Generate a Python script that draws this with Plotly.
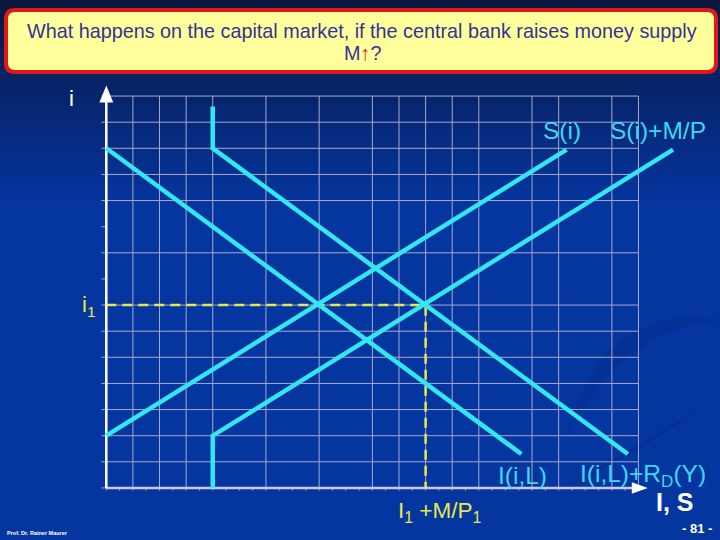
import plotly.graph_objects as go

# ---------------- data (axis units) ----------------
grid_x = [0, 1, 2, 3, 4, 6, 8, 10, 11, 12, 13, 14, 16, 17, 19, 20]
grid_y = [1, 2, 3, 4, 5, 6, 7, 9, 11, 12, 13, 14, 15]
grid_top = 15
grid_right = 20

curve_I_x = [0, 15.6]
curve_I_y = [13, 1.3]
curve_IRD_x = [4, 4, 19.6]
curve_IRD_y = [14.6, 13, 1.3]
curve_S_x = [0, 17.3]
curve_S_y = [2, 12.95]
curve_SMP_x = [4, 4, 21.3]
curve_SMP_y = [0, 2, 12.95]
eq_x = 12
eq_y = 7

title_line1 = "What happens on the capital market, if the central bank raises money supply"
title_line2 = "M<span style='color:#e01010'>↑</span>?"

# ---------------- layout helpers ----------------
W, H = 720, 540
ML, MR, MT, MB = 93, 15, 83, 39
PW, PH = W - ML - MR, H - MT - MB


def fx(px):
    return (px - ML) / PW


def fy(py):
    return 1 - (py - MT) / PH


CYAN = "#33e6f2"
CYAN_TXT = "#3fd6f0"
YEL = "#e8e84a"
GRID = "#a8a8c8"
FONT = "Liberation Sans, Arial, sans-serif"

fig = go.Figure()
shapes = []

# background gradient at top
top_c = (10, 22, 60)
bot_c = (5, 54, 160)
n = 40
for k in range(n):
    y0 = k * 210 / n
    y1 = (k + 1) * 210 / n
    t = (k / (n - 1)) ** 0.9
    c = tuple(int(top_c[j] + (bot_c[j] - top_c[j]) * t) for j in range(3))
    shapes.append(dict(type="rect", xref="paper", yref="paper", layer="below",
                       x0=fx(0), x1=fx(W), y0=fy(y1 + 0.5), y1=fy(y0),
                       fillcolor="rgb(%d,%d,%d)" % c, line=dict(width=0)))

# faint swirl in lower right
shapes.append(dict(type="path", xref="paper", yref="paper", layer="below",
                   path="M %f %f Q %f %f %f %f Q %f %f %f %f Z" % (
                       fx(565), fy(440), fx(600), fy(300), fx(720), fy(320),
                       fx(620), fy(330), fx(565), fy(440)),
                   fillcolor="rgba(0,25,100,0.18)", line=dict(width=0)))
shapes.append(dict(type="path", xref="paper", yref="paper", layer="below",
                   path="M %f %f Q %f %f %f %f Q %f %f %f %f Z" % (
                       fx(540), fy(500), fx(650), fy(440), fx(720), fy(395),
                       fx(640), fy(455), fx(540), fy(500)),
                   fillcolor="rgba(0,25,100,0.15)", line=dict(width=0)))

# grid
gx, gy = [], []
for x in grid_x:
    gx += [x, x, None]
    gy += [0, grid_top, None]
for y in grid_y:
    gx += [0, grid_right, None]
    gy += [y, y, None]
fig.add_trace(go.Scatter(x=gx, y=gy, mode="lines", line=dict(color=GRID, width=1),
                         hoverinfo="skip", showlegend=False))

# tick marks
tx, ty = [], []
for y in range(0, grid_top + 1):
    tx += [-0.18, 0, None]
    ty += [y, y, None]
for k in range(0, 2 * grid_right + 1):
    tx += [k / 2, k / 2, None]
    ty += [0, -0.1, None]
fig.add_trace(go.Scatter(x=tx, y=ty, mode="lines", line=dict(color=GRID, width=1),
                         hoverinfo="skip", showlegend=False))

# axes
fig.add_trace(go.Scatter(x=[0, 20.0], y=[0, 0], mode="lines",
                         line=dict(color="#c8c8f0", width=2.5),
                         hoverinfo="skip", showlegend=False))
fig.add_trace(go.Scatter(x=[0, 0], y=[0, 14.9], mode="lines",
                         line=dict(color="white", width=2.5),
                         hoverinfo="skip", showlegend=False))
shapes.append(dict(type="path", xref="x", yref="y",
                   path="M -0.26 14.75 L 0.26 14.75 L 0 15.4 Z",
                   fillcolor="white", line=dict(width=0)))
shapes.append(dict(type="path", xref="x", yref="y",
                   path="M 19.75 0.22 L 19.75 -0.22 L 20.35 0 Z",
                   fillcolor="white", line=dict(width=0)))

# dashed equilibrium lines
fig.add_trace(go.Scatter(x=[0, eq_x, eq_x], y=[eq_y, eq_y, 0], mode="lines",
                         line=dict(color=YEL, width=2.5, dash="10px,6px"),
                         hoverinfo="skip", showlegend=False))

# curves
for cx, cy in [(curve_I_x, curve_I_y), (curve_IRD_x, curve_IRD_y),
               (curve_S_x, curve_S_y), (curve_SMP_x, curve_SMP_y)]:
    fig.add_trace(go.Scatter(x=cx, y=cy, mode="lines",
                             line=dict(color=CYAN, width=4.5),
                             hoverinfo="skip", showlegend=False))

# title box
x0, x1, y0, y1, r = 6, 716, 10, 72, 9
p = [fx(x0 + r), fy(y0), fx(x1 - r), fy(y0), fx(x1), fy(y0), fx(x1), fy(y0 + r),
     fx(x1), fy(y1 - r), fx(x1), fy(y1), fx(x1 - r), fy(y1),
     fx(x0 + r), fy(y1), fx(x0), fy(y1), fx(x0), fy(y1 - r),
     fx(x0), fy(y0 + r), fx(x0), fy(y0), fx(x0 + r), fy(y0)]
path = ("M %f %f L %f %f Q %f %f %f %f L %f %f Q %f %f %f %f L %f %f "
        "Q %f %f %f %f L %f %f Q %f %f %f %f Z") % tuple(p)
shapes.append(dict(type="path", xref="paper", yref="paper", path=path,
                   fillcolor="#ffff9c", line=dict(color="#e01818", width=4)))

annotations = []


def txt(text, px, py, size, color, xanchor="center", bold=False):
    if bold:
        text = "<b>" + text + "</b>"
    annotations.append(dict(text=text, x=fx(px), y=fy(py), xref="paper", yref="paper",
                            xanchor=xanchor, yanchor="middle", showarrow=False,
                            font=dict(family=FONT, size=size, color=color)))


txt(title_line1, 362, 31, 19.8, "#333399")
txt(title_line2, 362, 53, 19.8, "#333399")
txt("i", 71, 98, 22, "white")
txt("i<sub>1</sub>", 88, 306, 22, YEL)
txt("S(i)", 562, 130, 24.5, CYAN_TXT)
txt("S(i)+M/P", 658, 130, 24.5, CYAN_TXT)
txt("I(i,L)", 522, 475, 24.5, CYAN_TXT)
txt("I(i,L)+R<sub>D</sub>(Y)", 643, 475, 24.5, CYAN_TXT)
txt("I<sub>1</sub> +M/P<sub>1</sub>", 439, 512, 22.5, YEL)
txt("I, S", 675, 502, 25, "white", bold=True)
txt("- 81 -", 697, 528, 13, "white", bold=True)
txt("Prof. Dr. Rainer Maurer", 5, 533, 5.5, "white", xanchor="left", bold=True)

fig.update_layout(
    width=W, height=H,
    margin=dict(l=ML, r=MR, t=MT, b=MB, pad=0),
    paper_bgcolor="#0536a0",
    plot_bgcolor="rgba(0,0,0,0)",
    xaxis=dict(range=[-0.5, 22.5], visible=False, fixedrange=True),
    yaxis=dict(range=[-0.5, 15.5], visible=False, fixedrange=True),
    shapes=shapes,
    annotations=annotations,
    showlegend=False,
)

fig.write_html("out.html", config={"displayModeBar": False},
               post_script="document.body.style.margin='0';document.body.style.overflow='hidden';")
